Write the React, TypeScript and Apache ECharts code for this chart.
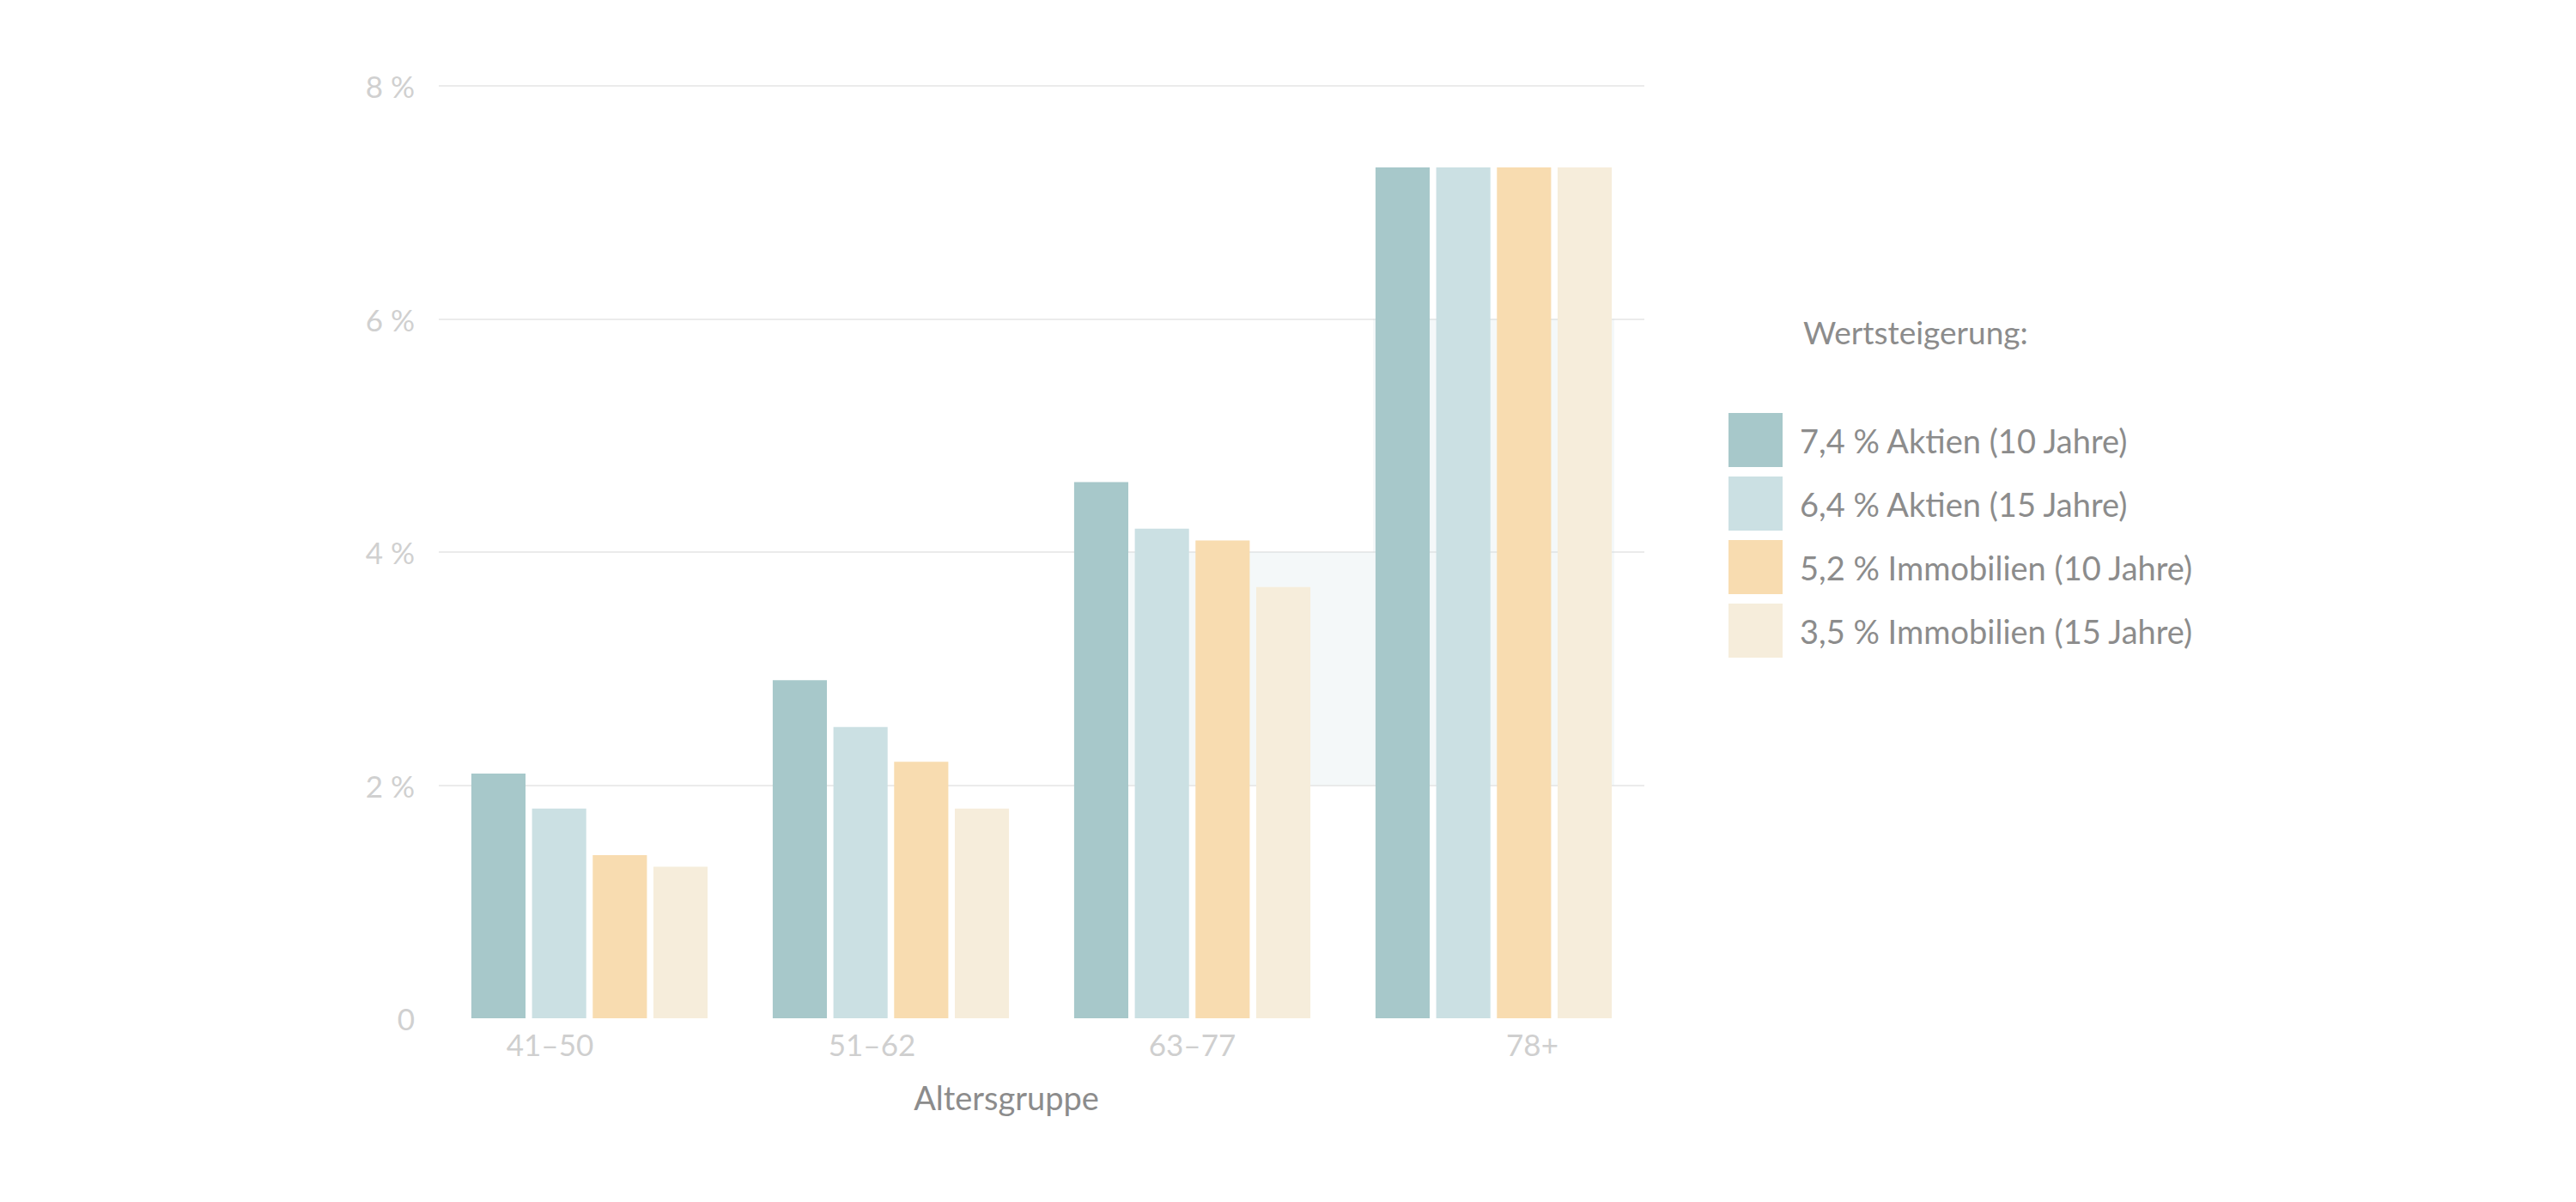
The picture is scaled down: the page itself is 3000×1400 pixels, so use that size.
import React, { useEffect, useRef } from "react";
import * as echarts from "echarts";

const categories = ["41–50", "51–62", "63–77", "78+"];
const seriesNames = [
  "7,4 % Aktien (10 Jahre)",
  "6,4 % Aktien (15 Jahre)",
  "5,2 % Immobilien (10 Jahre)",
  "3,5 % Immobilien (15 Jahre)",
];
const aktien10 = [2.1, 2.9, 4.6, 7.3];
const aktien15 = [1.8, 2.5, 4.2, 7.3];
const immo10 = [1.4, 2.2, 4.1, 7.3];
const immo15 = [1.3, 1.8, 3.7, 7.3];
const seriesValues = [aktien10, aktien15, immo10, immo15];
const colors = ["#a7c8ca", "#cbe0e3", "#f8dcb0", "#f6eddb"];
const yTicks = [0, 2, 4, 6, 8];
// per-label horizontal shift of the category labels (px)
const labelShift = [-46, -22, 0, 45];
const FONT = "Lato";

export default function App() {
  const ref = useRef<HTMLDivElement>(null);
  useEffect(() => {
    if (!ref.current) return;
    const chart = echarts.init(ref.current, null, { renderer: "svg" });
    const rich: Record<string, any> = {};
    labelShift.forEach((s, i) => {
      rich["s" + i] = {
        fontFamily: FONT,
        fontSize: 35,
        color: "#cfcfcf",
        padding: s < 0 ? [0, -2 * s, 0, 0] : [0, 0, 0, 2 * s],
      };
    });
    const option: any = {
      animation: false,
      backgroundColor: "#ffffff",
      textStyle: { fontFamily: FONT },
      title: {
        text: "Wertsteigerung:",
        left: 2095,
        top: 363,
        textStyle: { fontFamily: FONT, fontSize: 37, fontWeight: "normal", color: "#8c8c8c" },
      },
      legend: {
        data: seriesNames,
        orient: "vertical",
        left: 2008,
        top: 476,
        itemWidth: 63,
        itemHeight: 63,
        itemGap: 11,
        icon: "rect",
        selectedMode: false,
        textStyle: { fontFamily: FONT, fontSize: 38, color: "#8c8c8c", padding: [0, 0, 0, 15] },
      },
      grid: { left: 511, right: 1085, top: 100, bottom: 214, containLabel: false },
      xAxis: [
        {
          type: "category",
          data: categories,
          axisLine: { show: false },
          axisTick: { show: false },
          axisLabel: {
            margin: 12,
            formatter: (v: string, i: number) => `{s${i}|${v}}`,
            rich,
          },
          name: "Altersgruppe",
          nameLocation: "middle",
          nameGap: 73,
          nameTextStyle: {
            fontFamily: FONT,
            fontSize: 38,
            color: "#8c8c8c",
            padding: [0, 82, 0, 0],
          },
        },
        { type: "value", min: 0, max: 4, show: false },
      ],
      yAxis: {
        type: "value",
        min: yTicks[0],
        max: yTicks[yTicks.length - 1],
        interval: 2,
        axisLine: { show: false },
        axisTick: { show: false },
        splitLine: { showMinLine: false, lineStyle: { color: "#ebebeb", width: 2 } },
        axisLabel: {
          margin: 28,
          fontFamily: FONT,
          fontSize: 35,
          color: "#d0d0d0",
          formatter: (v: number) => (v === 0 ? "0" : `${v} %`),
        },
      },
      series: [
        {
          type: "line",
          xAxisIndex: 1,
          data: [],
          silent: true,
          z: 1,
          markArea: {
            silent: true,
            itemStyle: { color: "rgba(200,222,226,0.2)" },
            data: [
              [{ coord: [2.29, 2] }, { coord: [3.1, 4] }],
              [{ coord: [3.1, 2] }, { coord: [3.9, 6] }],
            ],
          },
        },
        ...seriesNames.map((name, i) => ({
          name,
          type: "bar",
          xAxisIndex: 0,
          data: seriesValues[i],
          barGap: "12%",
          barCategoryGap: "21.6%",
          z: 2,
          itemStyle: { color: colors[i] },
        })),
      ],
    };
    chart.setOption(option);
    return () => chart.dispose();
  }, []);
  return (
    <div
      ref={ref}
      style={{ position: "fixed", left: 0, top: 0, width: 3000, height: 1400 }}
    />
  );
}
